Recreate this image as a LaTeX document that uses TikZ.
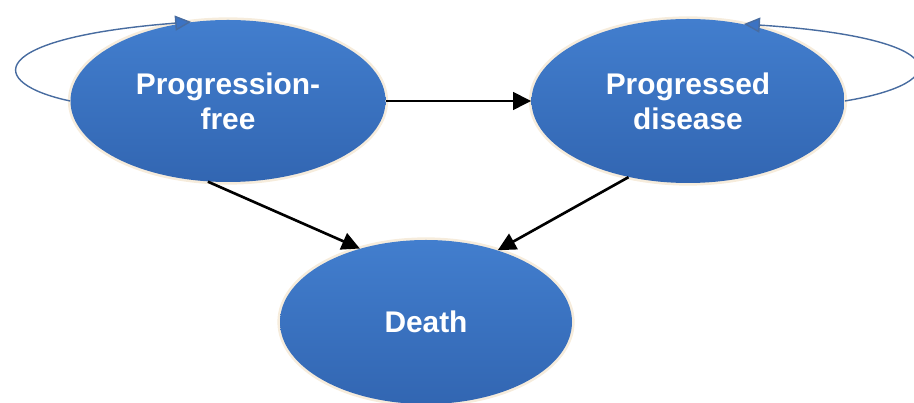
\documentclass[tikz,border=0pt]{standalone}
\usepackage{fontspec}
\setmainfont{Liberation Sans}
\usetikzlibrary{arrows.meta,positioning,shapes.geometric}
\definecolor{stateTop}{RGB}{66,126,206}
\definecolor{stateBot}{RGB}{50,102,178}
\definecolor{glow}{RGB}{246,236,220}
\definecolor{loopline}{RGB}{72,108,160}
\definecolor{loophead}{RGB}{60,115,195}

\begin{document}
\begin{tikzpicture}[x=1cm,y=1cm]
\tikzset{
  statenode/.style={ellipse,top color=stateTop,bottom color=stateBot,draw=none,
    preaction={draw=glow,line width=3pt},inner sep=0pt,align=center,
    text=white,font=\fontsize{17}{20}\selectfont\bfseries},
  transition/.style={-{Triangle[length=3.6mm,width=3.5mm]},line width=1.5pt,black},
  selfloop/.style={-{Triangle[length=3.2mm,width=3mm,fill=loophead]},line width=0.8pt,draw=loopline}
}
\useasboundingbox (0,0) rectangle (18.28,8.06);
\node[statenode,minimum width=6.30cm,minimum height=3.24cm] (n_PF) at (4.56,6.04) {Progression-\\free};
\node[statenode,minimum width=6.26cm,minimum height=3.28cm] (n_PD) at (13.76,6.04) {Progressed\\disease};
\node[statenode,minimum width=5.84cm,minimum height=3.28cm] (n_D) at (8.52,1.62) {Death};
\draw[transition] (n_PF) -- (n_PD);
\draw[transition] (n_PF.-104) -- (n_D.132);
\draw[transition] (n_PD.-128) -- (n_D.45);
\draw[selfloop] (n_PF.180) .. controls (-0.3,6.4) and (-0.3,7.3) .. (n_PF.115);
\draw[selfloop] (n_PD.0) .. controls (19.1,6.4) and (19.1,7.3) .. (n_PD.54);
\end{tikzpicture}
\end{document}
